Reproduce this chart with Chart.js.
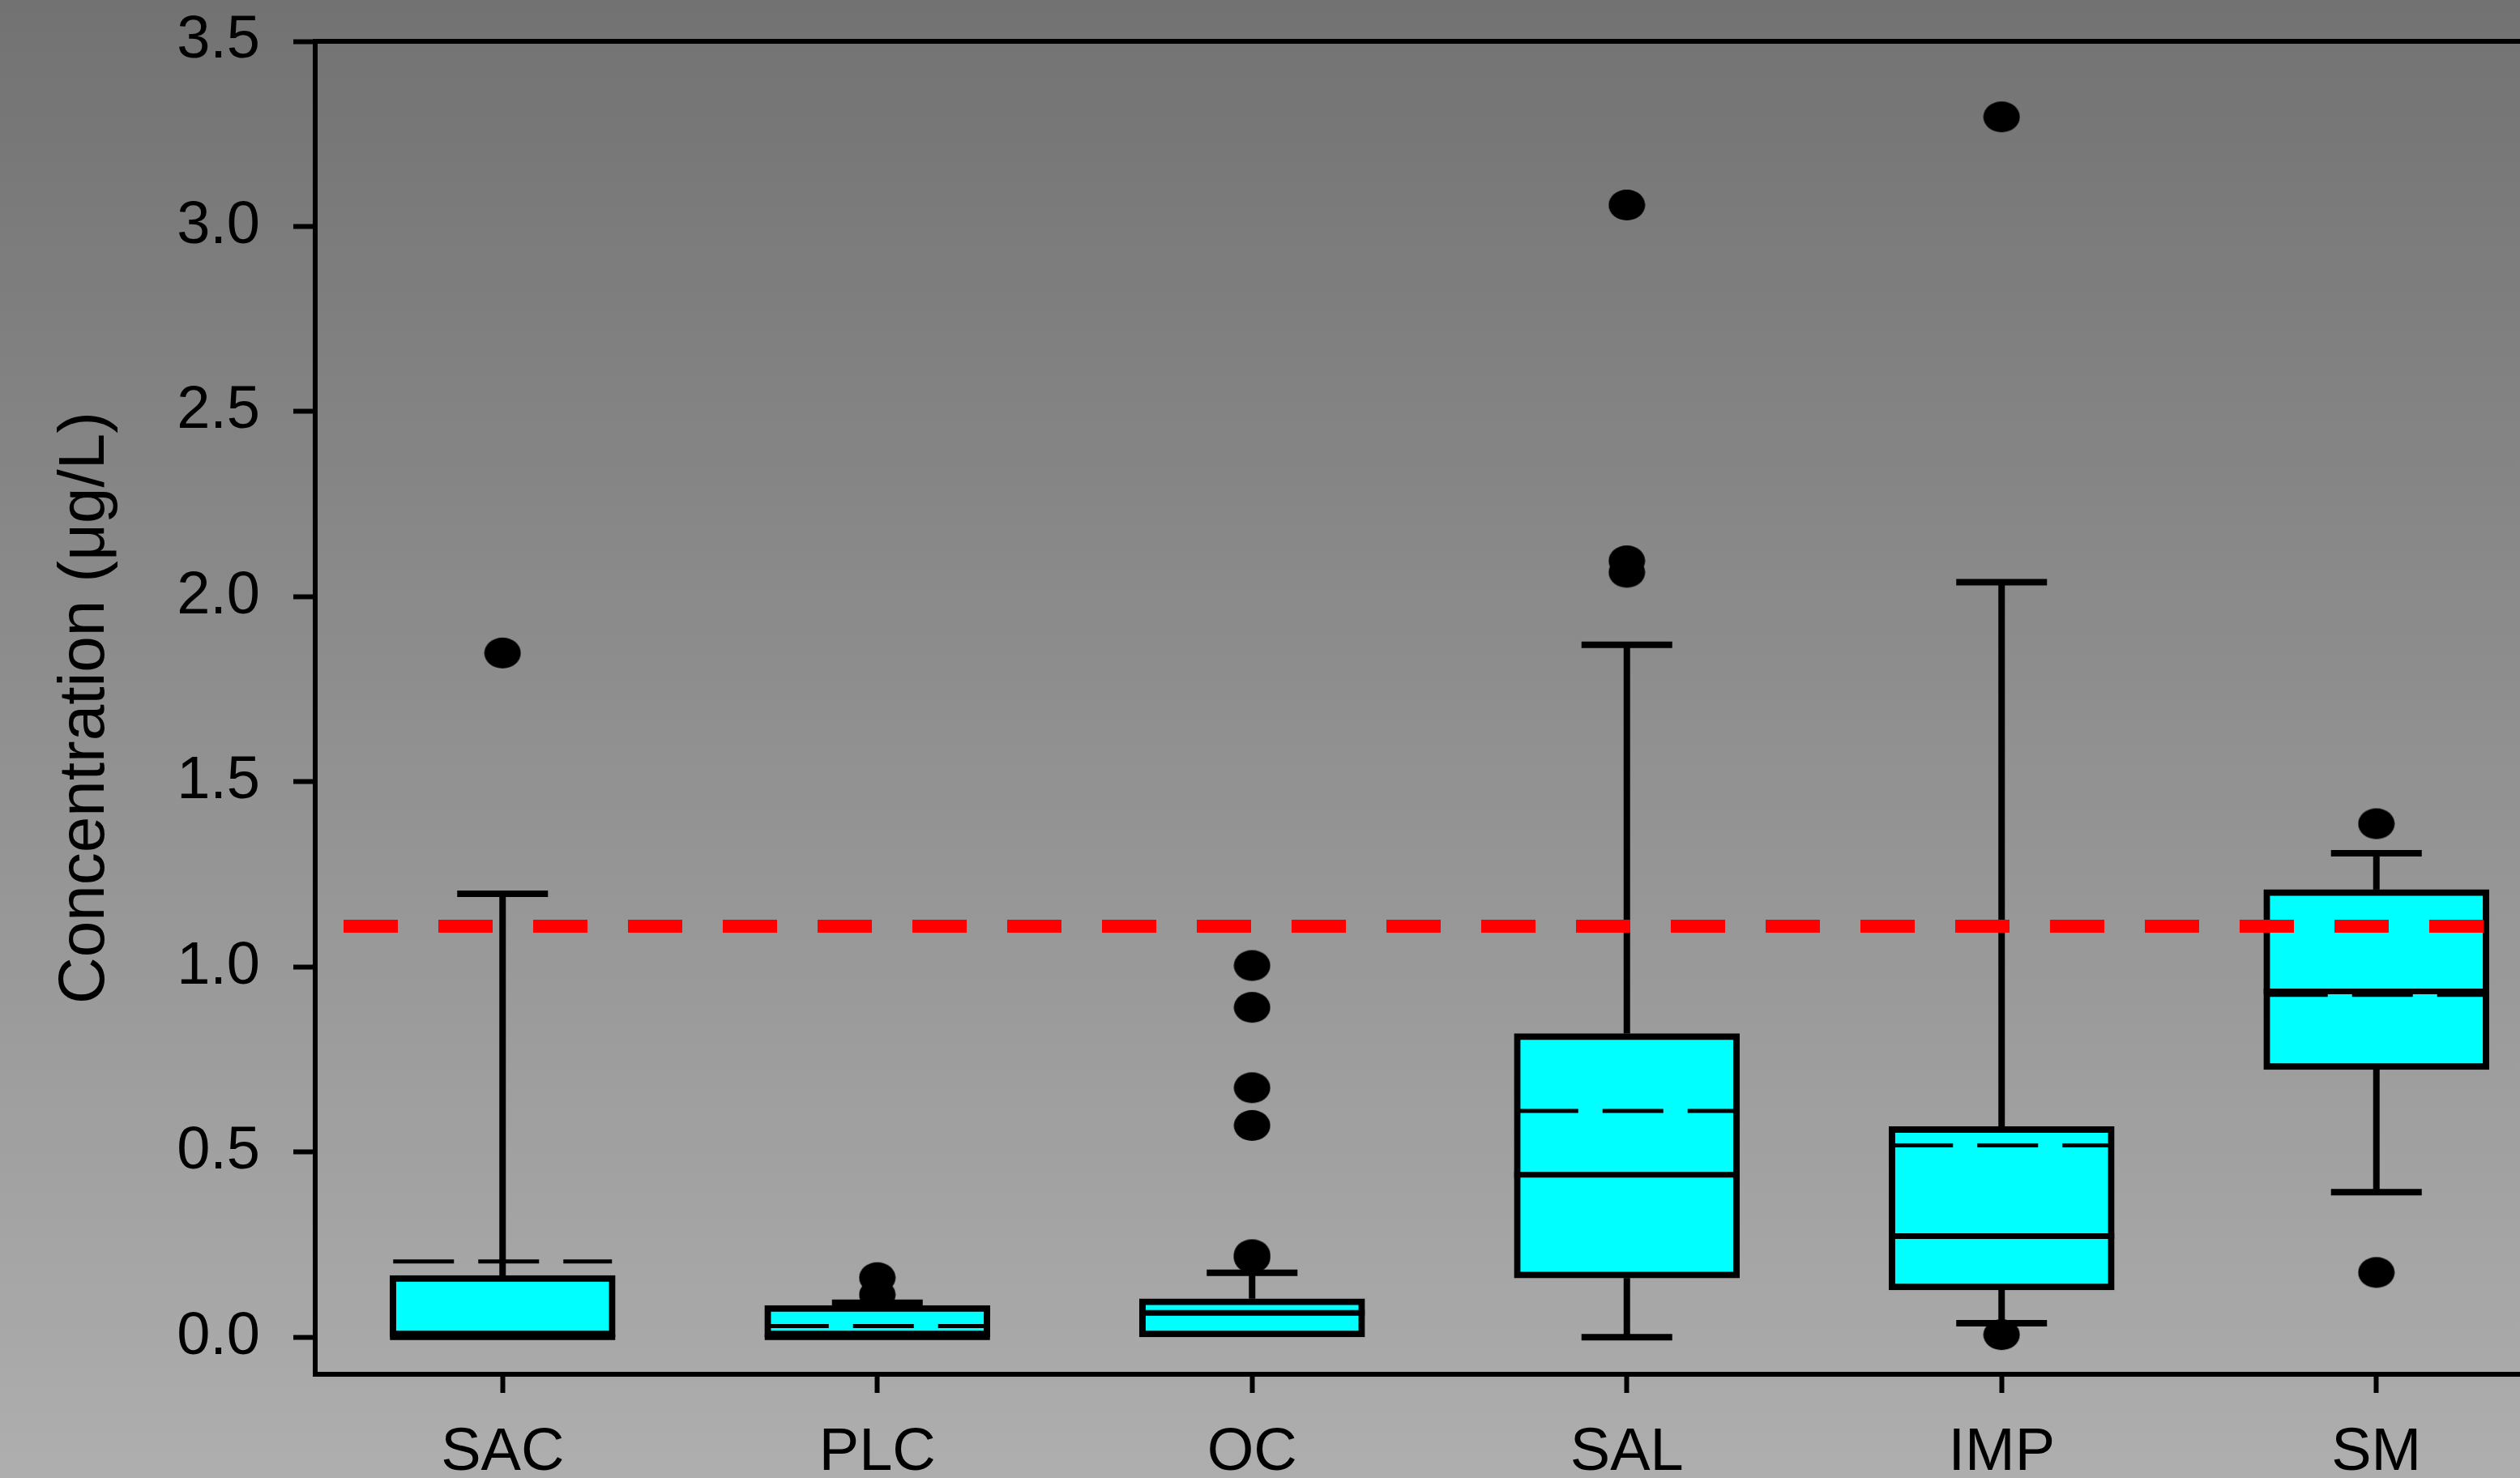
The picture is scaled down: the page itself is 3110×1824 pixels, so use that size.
<!DOCTYPE html>
<html>
<head>
<meta charset="utf-8">
<script src="https://cdn.jsdelivr.net/npm/chart.js@4.4.0/dist/chart.umd.min.js"></script>
<style>
html, body { margin: 0; padding: 0; width: 3110px; height: 1824px; overflow: hidden; background: #909090; }
canvas { display: block; }
</style>
</head>
<body>
<canvas id="grafico" width="3200" height="1824"></canvas>
<script>
const categorias = ['SAC', 'PLC', 'OC', 'SAL', 'IMP', 'SM'];
const cuartil1 = [0, 0, 0, 0.16, 0.128, 0.723];
const cuartil3 = [0.167, 0.086, 0.104, 0.82, 0.569, 1.209];
const medianas = [0, 0, 0.066, 0.439, 0.273, 0.934];
const medias = [0.205, 0.03, null, 0.611, 0.518, 0.925];
const bigoteBajo = [0, 0, 0, 0, 0.038, 0.392];
const bigoteAlto = [1.198, 0.093, 0.174, 1.87, 2.039, 1.307];
const atipicos = [
    [1.848],
    [0.161, 0.115],
    [1.004, 0.891, 0.674, 0.572, 0.223, 0.215],
    [3.058, 2.097, 2.066],
    [3.296, 0.007],
    [1.387, 0.175]
];
const marcasY = [0, 0.5, 1.0, 1.5, 2.0, 2.5, 3.0, 3.5];
const umbral = 1.11;

const ANCHO_CAJA = 278;
const ANCHO_TOPE = 112;
const fuente = 'Liberation Sans, Arial, sans-serif';

// punto elíptico para los valores atípicos
const punto = document.createElement('canvas');
punto.width = 46;
punto.height = 40;
const pctx = punto.getContext('2d');
pctx.fillStyle = '#000';
pctx.beginPath();
pctx.ellipse(23, 20, 22.5, 19, 0, 0, Math.PI * 2);
pctx.fill();

function linea(ctx, x1, y1, x2, y2) {
    ctx.beginPath();
    ctx.moveTo(x1, y1);
    ctx.lineTo(x2, y2);
    ctx.stroke();
}

const fondo = {
    id: 'fondo',
    beforeDraw(chart) {
        const ctx = chart.ctx;
        const grad = ctx.createLinearGradient(0, 0, 0, chart.height);
        grad.addColorStop(0, '#727272');
        grad.addColorStop(1, '#aeaeae');
        ctx.save();
        ctx.fillStyle = grad;
        ctx.fillRect(0, 0, chart.width, chart.height);
        ctx.restore();
    }
};

const cajas = {
    id: 'cajas',
    afterDatasetDraw(chart, args) {
        if (args.meta.type !== 'bar') return;
        const { ctx, scales: { x, y } } = chart;
        ctx.save();
        ctx.strokeStyle = '#000';
        categorias.forEach((c, i) => {
            const cx = x.getPixelForValue(i);
            const izq = cx - ANCHO_CAJA / 2;
            const der = cx + ANCHO_CAJA / 2;

            ctx.lineWidth = 8;
            ctx.setLineDash([]);
            if (bigoteAlto[i] > cuartil3[i]) {
                const yTope = y.getPixelForValue(bigoteAlto[i]);
                linea(ctx, cx, y.getPixelForValue(cuartil3[i]), cx, yTope);
                linea(ctx, cx - ANCHO_TOPE / 2, yTope, cx + ANCHO_TOPE / 2, yTope);
            }
            if (bigoteBajo[i] < cuartil1[i]) {
                const yTope = y.getPixelForValue(bigoteBajo[i]);
                linea(ctx, cx, y.getPixelForValue(cuartil1[i]), cx, yTope);
                linea(ctx, cx - ANCHO_TOPE / 2, yTope, cx + ANCHO_TOPE / 2, yTope);
            }

            ctx.lineWidth = 7;
            const yMed = y.getPixelForValue(medianas[i]);
            linea(ctx, izq, yMed, der, yMed);

            if (medias[i] !== null) {
                const yMedia = y.getPixelForValue(medias[i]);
                ctx.lineWidth = 5;
                ctx.setLineDash([75, 30]);
                linea(ctx, izq + 4, yMedia, der - 4, yMedia);
            }
        });
        ctx.restore();
    },
    afterDatasetsDraw(chart) {
        const { ctx, chartArea, scales: { y } } = chart;
        const yU = y.getPixelForValue(umbral);
        ctx.save();
        ctx.strokeStyle = '#ff0000';
        ctx.lineWidth = 16;
        ctx.setLineDash([67, 50]);
        linea(ctx, chartArea.left + 35, yU, chartArea.right, yU);
        ctx.setLineDash([]);
        ctx.strokeStyle = '#000';
        ctx.lineWidth = 6;
        linea(ctx, chartArea.left - 3, chartArea.top, chartArea.right, chartArea.top);
        ctx.restore();
    }
};

const puntosAtipicos = atipicos.flatMap((valores, i) =>
    valores.map(v => ({ x: categorias[i], y: v }))
);

new Chart(document.getElementById('grafico'), {
    type: 'bar',
    data: {
        labels: categorias,
        datasets: [
            {
                type: 'line',
                data: puntosAtipicos,
                showLine: false,
                pointStyle: punto,
                pointRadius: 22,
                order: 1
            },
            {
                type: 'bar',
                data: cuartil1.map((v, i) => [v, cuartil3[i]]),
                backgroundColor: '#00ffff',
                borderColor: '#000',
                borderWidth: 8,
                borderSkipped: false,
                barThickness: ANCHO_CAJA,
                order: 2
            }
        ]
    },
    options: {
        responsive: false,
        animation: false,
        devicePixelRatio: 1,
        layout: { padding: { top: 51, right: 36, left: 0, bottom: 0 } },
        plugins: {
            legend: { display: false },
            tooltip: { enabled: false }
        },
        scales: {
            x: {
                type: 'category',
                offset: true,
                grid: {
                    offset: false,
                    drawOnChartArea: false,
                    tickLength: 23,
                    tickColor: '#000',
                    tickWidth: 6
                },
                border: { color: '#000', width: 6 },
                ticks: {
                    color: '#000',
                    font: { family: fuente, size: 74 },
                    padding: 30,
                    maxRotation: 0
                },
                afterFit(scale) { scale.height = 128; }
            },
            y: {
                min: -0.1,
                max: 3.5,
                grid: {
                    drawOnChartArea: false,
                    tickLength: 27,
                    tickColor: '#000',
                    tickWidth: 6
                },
                border: { color: '#000', width: 6 },
                ticks: {
                    color: '#000',
                    font: { family: fuente, size: 74 },
                    padding: 41,
                    callback: v => v.toFixed(1)
                },
                afterBuildTicks(scale) {
                    scale.ticks = marcasY.map(v => ({ value: v }));
                },
                title: {
                    display: true,
                    text: 'Concentration (μg/L)',
                    color: '#000',
                    font: { family: fuente, size: 80 },
                    padding: { top: 58, bottom: 0 }
                },
                afterFit(scale) {
                    scale.width = 389;
                    // el margen superior lo fija layout.padding
                    scale.paddingTop = 0;
                    scale.paddingBottom = 0;
                }
            }
        }
    },
    plugins: [fondo, cajas]
});
</script>
</body>
</html>
